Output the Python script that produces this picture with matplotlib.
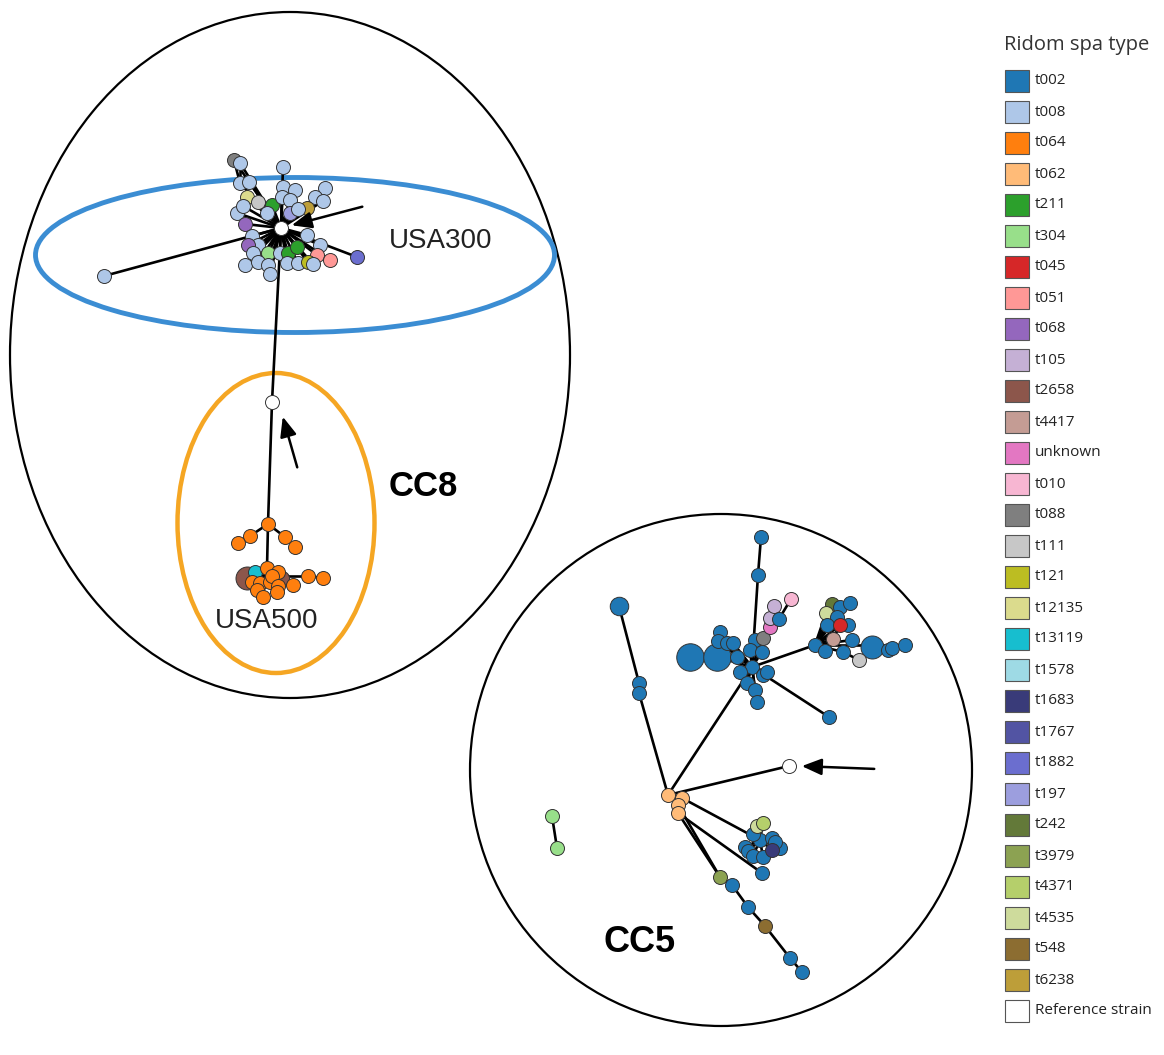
import matplotlib
matplotlib.use('Agg')
import matplotlib.pyplot as plt
from matplotlib.patches import Ellipse, Rectangle

# spa types and their colours, in legend order
spa_types = ['t002', 't008', 't064', 't062', 't211', 't304', 't045', 't051', 't068', 't105',
             't2658', 't4417', 'unknown', 't010', 't088', 't111', 't121', 't12135', 't13119',
             't1578', 't1683', 't1767', 't1882', 't197', 't242', 't3979', 't4371', 't4535',
             't548', 't6238', 'Reference strain']
spa_colors = ['#1f77b4', '#aec7e8', '#ff7f0e', '#ffbb78', '#2ca02c', '#98df8a', '#d62728', '#ff9896',
              '#9467bd', '#c5b0d5', '#8c564b', '#c49c94', '#e377c2', '#f7b6d2', '#7f7f7f', '#c7c7c7',
              '#bcbd22', '#dbdb8d', '#17becf', '#9edae5', '#393b79', '#5254a3', '#6b6ecf', '#9c9ede',
              '#637939', '#8ca252', '#b5cf6b', '#cedb9c', '#8c6d31', '#bd9e39', '#ffffff']
color_of = dict(zip(spa_types, spa_colors))
color_of['ref'] = '#ffffff'

# nodes: (id, x, y, spa type, isolates)  -- layout coordinates of the minimum spanning tree
usa300_nodes = [
    ('c8', 281, 228, 'ref', 1),
    ('a1', 234, 160, 't088', 1), ('a2', 240, 163, 't008', 1), ('a3', 283, 167, 't008', 1),
    ('a4', 240, 183, 't008', 1), ('a5', 249, 182, 't008', 1), ('a6', 247, 197, 't12135', 1),
    ('a7', 258, 202, 't111', 1), ('a8', 272, 205, 't211', 1), ('a9', 283, 187, 't008', 1),
    ('a10', 295, 190, 't008', 1), ('a11', 282, 197, 't008', 1), ('a12', 290, 200, 't008', 1),
    ('a13', 325, 188, 't008', 1), ('a14', 315, 197, 't008', 1), ('a15', 323, 201, 't008', 1),
    ('a16', 307, 208, 't6238', 1), ('a17', 290, 213, 't197', 1), ('a18', 298, 209, 't008', 1),
    ('a19', 237, 213, 't008', 1), ('a20', 243, 206, 't008', 1), ('a21', 245, 224, 't068', 1),
    ('a22', 267, 213, 't008', 1), ('a23', 252, 236, 't008', 1), ('a24', 258, 245, 't008', 1),
    ('a25', 248, 245, 't068', 1), ('a26', 253, 253, 't008', 1), ('a27', 268, 253, 't304', 1),
    ('a28', 280, 253, 't008', 1), ('a29', 288, 253, 't211', 1), ('a30', 297, 247, 't211', 1),
    ('a31', 307, 235, 't008', 1), ('a32', 320, 245, 't008', 1), ('a33', 317, 255, 't051', 1),
    ('a34', 330, 260, 't051', 1), ('a35', 357, 257, 't1882', 1), ('a36', 245, 265, 't008', 1),
    ('a37', 258, 262, 't008', 1), ('a38', 268, 265, 't008', 1), ('a39', 270, 274, 't008', 1),
    ('a40', 287, 263, 't008', 1), ('a41', 298, 263, 't008', 1), ('a42', 308, 262, 't121', 1),
    ('a43', 313, 264, 't008', 1), ('a44', 104, 276, 't008', 1),
]
usa500_nodes = [
    ('w8', 272, 402, 'ref', 1),
    ('b0', 268, 524, 't064', 1), ('b1', 250, 536, 't064', 1), ('b2', 238, 543, 't064', 1),
    ('b3', 285, 537, 't064', 1), ('b4', 295, 547, 't064', 1), ('b5', 247, 578, 't2658', 3),
    ('b6', 255, 572, 't13119', 1), ('b7', 282, 578, 't2658', 1), ('b8', 267, 568, 't064', 1),
    ('b9', 252, 582, 't064', 1), ('b10', 260, 583, 't064', 1), ('b11', 270, 582, 't064', 1),
    ('b12', 278, 572, 't064', 1), ('b13', 272, 576, 't064', 1), ('b14', 278, 586, 't064', 1),
    ('b15', 293, 585, 't064', 1), ('b16', 257, 590, 't064', 1), ('b17', 263, 597, 't064', 1),
    ('b18', 277, 592, 't064', 1), ('b19', 308, 576, 't064', 1), ('b20', 323, 578, 't064', 1),
]
cc5_nodes = [
    ('h5', 752, 667, 't002', 1), ('u1', 758, 575, 't002', 1), ('u2', 761, 537, 't002', 1),
    ('L1', 619, 606, 't002', 2), ('L2', 639, 683, 't002', 1), ('L3', 639, 693, 't002', 1),
    ('B1', 690, 657, 't002', 4), ('B2', 717, 657, 't002', 4),
    ('d1', 720, 632, 't002', 1), ('d2', 718, 641, 't002', 1), ('d3', 727, 643, 't002', 1),
    ('d4', 733, 643, 't002', 1), ('d5', 737, 657, 't002', 1), ('d6', 755, 640, 't002', 1),
    ('d7', 750, 650, 't002', 1), ('d8', 762, 652, 't002', 1), ('d9', 740, 672, 't002', 1),
    ('d10', 747, 683, 't002', 1), ('d11', 755, 690, 't002', 1), ('d12', 763, 675, 't002', 1),
    ('d13', 767, 672, 't002', 1), ('d14', 757, 702, 't002', 1),
    ('g1', 763, 638, 't088', 1), ('p1', 770, 627, 'unknown', 1), ('p2', 770, 618, 't105', 1),
    ('p3', 774, 606, 't105', 1), ('p4', 779, 619, 't002', 1), ('p5', 791, 599, 't010', 1),
    ('r0', 829, 717, 't002', 1),
    ('R0', 815, 645, 't002', 1), ('R1', 825, 651, 't002', 1), ('R2', 832, 604, 't242', 1),
    ('R3', 826, 613, 't4535', 1), ('R4', 840, 607, 't002', 1), ('R5', 850, 603, 't002', 1),
    ('R6', 837, 617, 't002', 1), ('R7', 827, 625, 't002', 1), ('R8', 848, 625, 't002', 1),
    ('R9', 840, 625, 't045', 1), ('R10', 852, 640, 't002', 1), ('R11', 843, 652, 't002', 1),
    ('R12', 833, 639, 't4417', 1), ('R13', 872, 647, 't002', 3), ('R14', 888, 650, 't002', 1),
    ('R15', 892, 648, 't002', 1), ('R16', 905, 645, 't002', 1), ('R17', 859, 660, 't111', 1),
    ('o1', 668, 795, 't062', 1), ('o2', 682, 798, 't062', 1), ('o3', 678, 805, 't062', 1),
    ('o4', 678, 813, 't062', 1), ('w5', 789, 766, 'ref', 1),
    ('e0', 760, 840, 't002', 1), ('e1', 753, 834, 't002', 1), ('e2', 757, 826, 't4535', 1),
    ('e3', 763, 823, 't4371', 1), ('e4', 772, 838, 't002', 1), ('e5', 745, 847, 't002', 1),
    ('e6', 748, 851, 't002', 1), ('e7', 780, 848, 't002', 1), ('e8', 775, 842, 't002', 1),
    ('e9', 753, 856, 't002', 1), ('e10', 763, 857, 't002', 1), ('e11', 772, 850, 't1683', 1),
    ('z1', 762, 873, 't002', 1),
    ('k1', 720, 877, 't3979', 1), ('k2', 732, 885, 't002', 1), ('k3', 748, 907, 't002', 1),
    ('k4', 765, 926, 't548', 1), ('k5', 790, 958, 't002', 1), ('k6', 802, 972, 't002', 1),
    ('s1', 552, 816, 't304', 1), ('s2', 557, 848, 't304', 1),
]

usa300_edges = [('c8', n[0]) for n in usa300_nodes[1:]] + [('a2', 'a4'), ('a1', 'a4'), ('c8', 'w8')]
usa500_edges = [('w8', 'b0'), ('b0', 'b1'), ('b1', 'b2'), ('b0', 'b3'), ('b3', 'b4'), ('b0', 'b8'),
                ('b13', 'b19'), ('b19', 'b20')] + [('b8', n[0]) for n in usa500_nodes[6:20]]
cc5_edges = ([('o1', 'h5'), ('o1', 'L3'), ('L3', 'L2'), ('L2', 'L1'), ('o1', 'w5'), ('o1', 'o2'),
              ('o1', 'o3'), ('o3', 'o4'), ('o2', 'e0'), ('o4', 'z1'), ('o3', 'k1'), ('o4', 'k1'),
              ('k1', 'k2'), ('k2', 'k3'), ('k3', 'k4'), ('k4', 'k5'), ('k5', 'k6'),
              ('h5', 'u1'), ('u1', 'u2'), ('h5', 'r0'), ('h5', 'R0'), ('h5', 'g1'), ('g1', 'p1'),
              ('p1', 'p2'), ('p2', 'p3'), ('g1', 'p4'), ('p4', 'p5'), ('h5', 'B2'), ('B2', 'B1'),
              ('R0', 'R16'), ('R11', 'R17'), ('s1', 's2')]
             + [('h5', 'd%d' % i) for i in range(1, 15)]
             + [('R0', 'R%d' % i) for i in range(1, 13)]
             + [('e0', 'e%d' % i) for i in range(1, 12)])

pos = {n[0]: (n[1], n[2]) for n in usa300_nodes + usa500_nodes + cc5_nodes}

fig = plt.figure(figsize=(11.64, 10.55), dpi=100)
ax = fig.add_axes([0, 0, 1, 1])
ax.set_xlim(0, 1164)
ax.set_ylim(1055, 0)
ax.axis('off')

# cluster outlines
ax.add_patch(Ellipse((290, 355), 560, 686, fill=False, ec='black', lw=1.6, zorder=1))
ax.add_patch(Ellipse((721, 770), 502, 512, fill=False, ec='black', lw=1.6, zorder=1))
ax.add_patch(Ellipse((295, 255), 519, 155, fill=False, ec='#3b8dd3', lw=3.5, zorder=1))
ax.add_patch(Ellipse((276, 523), 197, 300, fill=False, ec='#f5a623', lw=3.2, zorder=1))

for a, b in usa300_edges + usa500_edges + cc5_edges:
    ax.plot([pos[a][0], pos[b][0]], [pos[a][1], pos[b][1]], color='black', lw=1.9,
            zorder=2, solid_capstyle='round')

for nid, x, y, spa, cnt in usa300_nodes[1:] + usa500_nodes[1:] + cc5_nodes + [usa300_nodes[0], usa500_nodes[0]]:
    d = 14 + 4.5 * (cnt - 1)
    ax.scatter(x, y, s=(d * 0.72) ** 2, color=color_of[spa], edgecolors='#333333',
               linewidths=0.7, zorder=3)

# arrows pointing at the reference strains
arrow = dict(arrowstyle='-|>,head_length=1.2,head_width=0.5', color='black', lw=1.8)
ax.annotate('', xy=(289, 226), xytext=(365, 206), arrowprops=arrow, zorder=4)
ax.annotate('', xy=(282, 414), xytext=(298, 470), arrowprops=arrow, zorder=4)
ax.annotate('', xy=(799, 766), xytext=(877, 769), arrowprops=arrow, zorder=4)

ax.text(389, 241, 'USA300', fontsize=20, family='Liberation Sans', va='center', ha='left', color='#222222')
ax.text(267, 621, 'USA500', fontsize=20, family='Liberation Sans', va='center', ha='center', color='#222222')
ax.text(423, 487, 'CC8', fontsize=25, family='Liberation Sans', weight='bold', va='center', ha='center')
ax.text(640, 943, 'CC5', fontsize=26, family='Liberation Sans', weight='bold', va='center', ha='center')

# legend
ax.text(1004, 45, 'Ridom spa type', fontsize=14.5, family='Open Sans', va='center', ha='left', color='#333333')
for i, (name, col) in enumerate(zip(spa_types, spa_colors)):
    yc = 81 + 31 * i
    ax.add_patch(Rectangle((1005, yc - 11), 24, 22, fc=col, ec='#555555', lw=0.8))
    ax.text(1035, yc, name, fontsize=11, family='Open Sans', va='center', ha='left', color='#222222')

fig.savefig('out.png', dpi=100)
